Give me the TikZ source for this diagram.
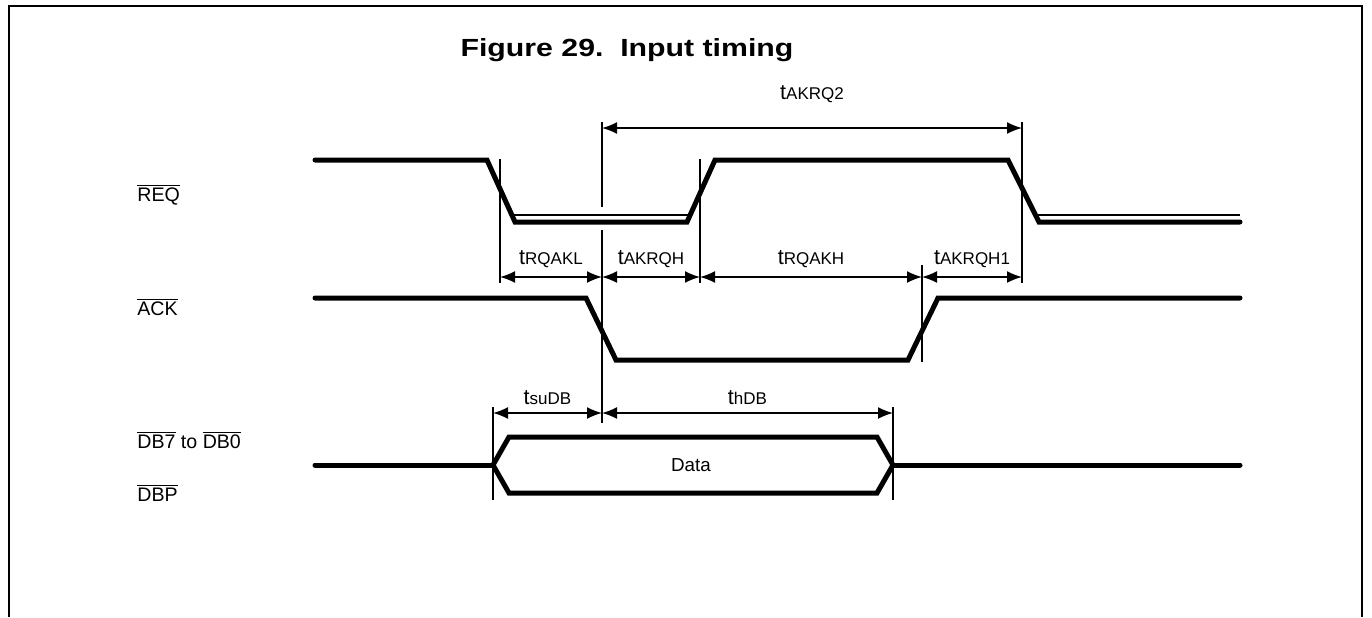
\documentclass[tikz,border=0pt]{standalone}
\usepackage{fontspec}
\setmainfont{Liberation Sans}
\newfontfamily\titlefont[FakeStretch=1.22]{Liberation Sans}
\usetikzlibrary{arrows.meta,positioning}

\newcommand{\ovl}[1]{$\overline{\mbox{#1}}$}
\newcommand{\tsub}[1]{t{\fontsize{8.5}{10}\selectfont #1}}

\begin{document}
\begin{tikzpicture}[x=0.5pt, y=-0.5pt,
    sig/.style={line width=2.5pt, line cap=round, line join=miter},
    thin/.style={line width=1pt},
    refline/.style={line width=0.8pt},
    dim/.style={{Latex[length=7.5pt,width=6pt]}-{Latex[length=7.5pt,width=6pt]}, line width=0.8pt},
    signame/.style={anchor=west, font=\fontsize{9.8}{12}\selectfont, inner sep=0pt},
    tlabel/.style={above=3pt, font=\fontsize{10.8}{12}\selectfont, inner sep=1pt}
]
    \useasboundingbox (0,0) rectangle (1372,617);

    % Frame and title
    \draw[line width=1.3pt] (9,617) -- (9,6) -- (1362,6) -- (1362,617);
    \node[font=\titlefont\bfseries\fontsize{12.4}{14}\selectfont] (title) at (627,50)
        {Figure 29.\ \ Input timing};

    % Signal names
    \node[signame] (req) at (137,195) {\ovl{REQ}};
    \node[signame] (ack) at (137,307) {\ovl{ACK}};
    \node[signame] (db) at (137,440) {\ovl{DB7} to \ovl{DB0}};
    \node[signame] (dbp) at (137,493) {\ovl{DBP}};

    % REQ
    \draw[sig] (315,160) -- (487,160) -- (515,222) -- (687,222) -- (715,160)
        -- (1008,160) -- (1039,222) -- (1240,222);
    \draw[thin] (512,215) -- (690,215);
    \draw[thin] (1036,215) -- (1240,215);

    % ACK
    \draw[sig] (315,298) -- (586,298) -- (616,360) -- (908,360) -- (938,298)
        -- (1240,298);

    % Data bus
    \draw[sig] (315,465) -- (493,465);
    \draw[sig] (493,465) -- (509,437) -- (877,437) -- (893,465) -- (877,493)
        -- (509,493) -- cycle;
    \draw[sig] (893,465) -- (1240,465);
    \node[font=\fontsize{9.4}{11}\selectfont] (data) at (691,465) {Data};

    % Reference lines
    \coordinate (ra) at (500,159);
    \coordinate (rb) at (602,122);
    \coordinate (rc) at (700,159);
    \coordinate (rd) at (922,265);
    \coordinate (re) at (1022,122);
    \coordinate (rf) at (493,407);
    \coordinate (rg) at (893,407);
    \draw[refline] (ra) -- ++(0,124);
    \draw[refline] (rb) -- ++(0,85);
    \draw[refline] (602,230) -- (602,423);
    \draw[refline] (rc) -- ++(0,124);
    \draw[refline] (rd) -- ++(0,97);
    \draw[refline] (re) -- ++(0,161);
    \draw[refline] (rf) -- ++(0,93);
    \draw[refline] (rg) -- ++(0,93);

    % Timing arrows
    \coordinate (top) at (0,128);
    \coordinate (mid) at (0,277);
    \coordinate (low) at (0,413);
    \draw[dim] (rb |- top) -- (re |- top) node[midway, tlabel, above=11pt] {\tsub{AKRQ2}};
    \draw[dim] (ra |- mid) -- (rb |- mid) node[midway, tlabel] {\tsub{RQAKL}};
    \draw[dim] (rb |- mid) -- (rc |- mid) node[midway, tlabel] {\tsub{AKRQH}};
    \draw[dim] (rc |- mid) -- (rd |- mid) node[midway, tlabel] {\tsub{RQAKH}};
    \draw[dim] (rd |- mid) -- (re |- mid) node[midway, tlabel] {\tsub{AKRQH1}};
    \draw[dim] (rf |- low) -- (rb |- low) node[midway, tlabel] {\tsub{suDB}};
    \draw[dim] (rb |- low) -- (rg |- low) node[midway, tlabel] {\tsub{hDB}};
\end{tikzpicture}
\end{document}
